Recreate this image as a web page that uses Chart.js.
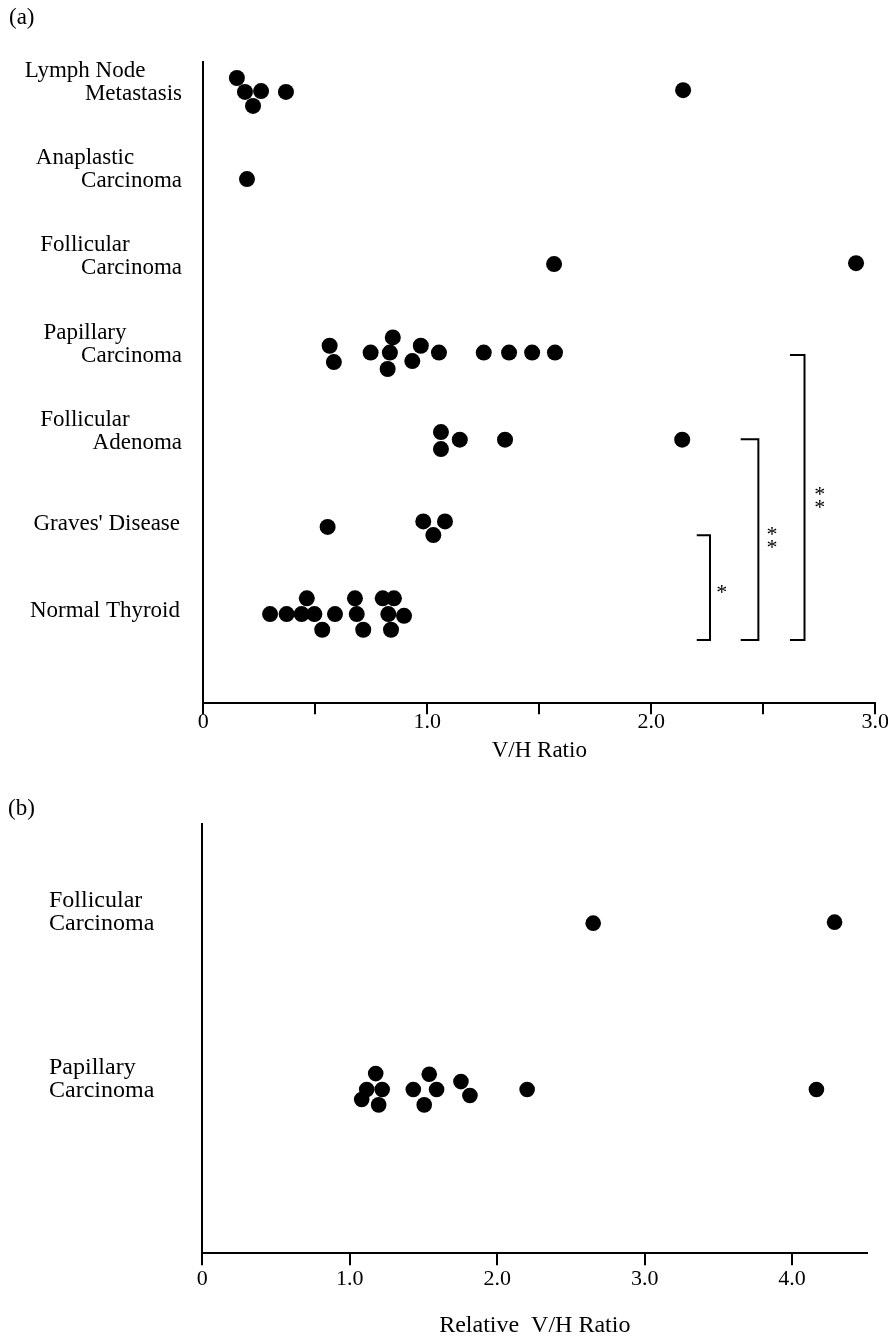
<!DOCTYPE html>
<html><head><meta charset="utf-8">
<script src="https://cdn.jsdelivr.net/npm/chart.js@4/dist/chart.umd.min.js"></script>
<style>
html,body{margin:0;padding:0;background:#fff;}
#wrap{position:relative;width:888px;height:1340px;overflow:hidden;background:#fff;}
canvas{position:absolute;left:0;}
#ca{top:0;} #cb{top:790px;}
.panel{position:absolute;font-family:"Liberation Serif","Times New Roman",serif;font-size:23px;line-height:1;color:#000;}
</style></head><body>
<div id="wrap">
<canvas id="ca" width="888" height="790"></canvas>
<canvas id="cb" width="888" height="550"></canvas>
<div class="panel" style="left:9px;top:5px;">(a)</div>
<div class="panel" style="left:8px;top:796px;">(b)</div>
</div>
<script>
// ---------- Panel (a) data ----------
const tickLabelsA = ['0', '1.0', '2.0', '3.0'];
const categoriesA = ['Normal Thyroid', "Graves' Disease", 'Follicular Adenoma', 'Papillary Carcinoma', 'Follicular Carcinoma', 'Anaplastic Carcinoma', 'Lymph Node Metastasis'];
const categoryLinesA = [['Normal Thyroid'], ["Graves' Disease"], ['Follicular', 'Adenoma'], ['Papillary', 'Carcinoma'], ['Follicular', 'Carcinoma'], ['Anaplastic', 'Carcinoma'], ['Lymph Node', 'Metastasis']];

const normalThyroid = [0.298, 0.372, 0.439, 0.462, 0.496, 0.531, 0.588, 0.677, 0.685, 0.714, 0.801, 0.851, 0.826, 0.896, 0.838];
const normalThyroidJitter = [0, 0, 0, 0.18, 0, -0.18, 0, 0.18, 0, -0.18, 0.18, 0.18, 0, -0.02, -0.18];
const gravesDisease = [0.555, 0.982, 1.079, 1.027];
const gravesDiseaseJitter = [0, 0.063, 0.063, -0.094];
const follicularAdenoma = [1.061, 1.061, 1.145, 1.347, 2.138];
const follicularAdenomaJitter = [0.088, -0.107, 0, 0, 0];
const papillaryCarcinoma = [0.564, 0.583, 0.747, 0.846, 0.833, 0.823, 0.971, 0.933, 1.052, 1.252, 1.365, 1.468, 1.570];
const papillaryCarcinomaJitter = [0.078, -0.109, 0, 0.174, 0, -0.189, 0.078, -0.098, 0, 0, 0, 0, 0];
const follicularCarcinoma = [1.566, 2.914];
const follicularCarcinomaJitter = [0.015, 0.025];
const anaplasticCarcinoma = [0.195];
const anaplasticCarcinomaJitter = [-0.01];
const lymphNodeMetastasis = [0.150, 0.186, 0.258, 0.222, 0.369, 2.142];
const lymphNodeMetastasisJitter = [0.15, -0.01, 0, -0.17, -0.01, 0.01];

// significance brackets (data units)
const bracketLeft = [2.203, 2.399, 2.619];
const bracketRight = [2.262, 2.478, 2.684];
const bracketTop = [0.903, 2.004, 2.971];
const bracketBottom = [-0.298, -0.298, -0.298];
const bracketMarks = ['*', '**', '**'];
const bracketMarkX = [2.314, 2.539, 2.752];
const bracketMarkY = [0.287, 0.878, 1.342];

// ---------- Panel (b) data ----------
const tickLabelsB = ['0', '1.0', '2.0', '3.0', '4.0'];
const categoriesB = ['Papillary Carcinoma', 'Follicular Carcinoma'];
const categoryLinesB = [['Papillary', 'Carcinoma'], ['Follicular', 'Carcinoma']];
const papillaryRelative = [1.176, 1.115, 1.220, 1.081, 1.196, 1.431, 1.539, 1.589, 1.505, 1.754, 1.815, 2.203, 4.165];
const papillaryRelativeJitter = [0.096, 0, 0, -0.06, -0.092, 0, 0.092, 0, -0.092, 0.048, -0.036, 0, 0];
const follicularRelative = [2.651, 4.288];
const follicularRelativeJitter = [0, 0.006];

// ---------- helpers ----------
const SERIF = '"Liberation Serif","Times New Roman",serif';
function rowData(values, jitter, row) { return values.map((v, i) => ({ x: v, y: row + jitter[i] })); }
function dotSet(label, values, jitter, row, r) {
  return { label, data: rowData(values, jitter, row), pointRadius: r, pointBackgroundColor: '#000', pointBorderWidth: 0, pointHoverRadius: r, showLine: false };
}

function labelPlugin(lines, cfg) {
  return {
    id: 'rowLabels',
    afterDraw(chart) {
      const ctx = chart.ctx, ys = chart.scales.y;
      ctx.save();
      ctx.fillStyle = '#000';
      ctx.font = cfg.font;
      ctx.textBaseline = 'middle';
      lines.forEach((ln, row) => {
        const py = ys.getPixelForValue(row);
        if (ln.length === 1) {
          ctx.textAlign = cfg.singleAlign; ctx.fillText(ln[0], cfg.singleX, py + cfg.singleDy);
        } else {
          ctx.textAlign = cfg.firstAlign; ctx.fillText(ln[0], cfg.firstX, py + cfg.firstDy);
          ctx.textAlign = cfg.secondAlign; ctx.fillText(ln[1], cfg.secondX, py + cfg.secondDy);
        }
      });
      ctx.restore();
    }
  };
}

const markPlugin = {
  id: 'sigMarks',
  afterDraw(chart) {
    const ctx = chart.ctx, xs = chart.scales.x, ys = chart.scales.y;
    ctx.save();
    ctx.fillStyle = '#000';
    ctx.font = '22px ' + SERIF;
    ctx.textAlign = 'center';
    ctx.textBaseline = 'alphabetic';
    bracketMarks.forEach((m, i) => {
      const px = xs.getPixelForValue(bracketMarkX[i]);
      const py = ys.getPixelForValue(bracketMarkY[i]);
      const n = m.length, gap = 13;
      for (let k = 0; k < n; k++) {
        const cy = py + (k - (n - 1) / 2) * gap;
        ctx.fillText('*', px, cy + 10);
      }
    });
    ctx.restore();
  }
};

function xScale(max, step, labels, title, cfg) {
  return {
    type: 'linear', min: 0, max: max,
    border: { display: true, color: '#000', width: 2 },
    grid: { display: true, drawOnChartArea: false, drawTicks: true, tickLength: cfg.tickLength, color: '#000', lineWidth: 2 },
    ticks: {
      stepSize: step, autoSkip: false, maxRotation: 0, includeBounds: false, color: '#000', padding: cfg.tickPad,
      font: { family: SERIF, size: 22, lineHeight: 0.5 },
      callback: (v) => Number.isInteger(v) ? labels[v] : ''
    },
    title: { display: true, text: title, color: '#000', font: { family: SERIF, size: cfg.titleSize, lineHeight: 1.2 }, padding: { top: 0, bottom: cfg.titlePad } },
    afterFit(s) { s.height = cfg.height; s.paddingLeft = 0; s.paddingRight = 0; }
  };
}
function yScale(min, max, width) {
  return {
    type: 'linear', min: min, max: max,
    ticks: { display: false },
    grid: { display: true, drawOnChartArea: false, drawTicks: false },
    border: { display: true, color: '#000', width: 2 },
    afterFit(s) { s.width = width; }
  };
}
const commonPlugins = { legend: { display: false }, tooltip: { enabled: false } };

// ---------- chart (a) ----------
const rA = 8;
const datasetsA = [
  dotSet(categoriesA[0], normalThyroid, normalThyroidJitter, 0, rA),
  dotSet(categoriesA[1], gravesDisease, gravesDiseaseJitter, 1, rA),
  dotSet(categoriesA[2], follicularAdenoma, follicularAdenomaJitter, 2, rA),
  dotSet(categoriesA[3], papillaryCarcinoma, papillaryCarcinomaJitter, 3, rA),
  dotSet(categoriesA[4], follicularCarcinoma, follicularCarcinomaJitter, 4, rA),
  dotSet(categoriesA[5], anaplasticCarcinoma, anaplasticCarcinomaJitter, 5, rA),
  dotSet(categoriesA[6], lymphNodeMetastasis, lymphNodeMetastasisJitter, 6, rA)
];
bracketMarks.forEach((m, i) => {
  datasetsA.push({
    label: 'bracket ' + m,
    data: [{ x: bracketLeft[i], y: bracketTop[i] }, { x: bracketRight[i], y: bracketTop[i] }, { x: bracketRight[i], y: bracketBottom[i] }, { x: bracketLeft[i], y: bracketBottom[i] }],
    showLine: true, pointRadius: 0, pointHoverRadius: 0, borderColor: '#000', borderWidth: 2, fill: false, tension: 0,
    borderJoinStyle: 'miter', borderCapStyle: 'butt'
  });
});

new Chart(document.getElementById('ca'), {
  type: 'scatter',
  data: { datasets: datasetsA },
  options: {
    responsive: false, animation: false, events: [],
    layout: { padding: { top: 62.3, right: 12.7, left: 0, bottom: 0 } },
    plugins: commonPlugins,
    scales: {
      x: xScale(3, 0.5, tickLabelsA, 'V/H Ratio', { tickLength: 11, tickPad: 2, titleSize: 23, titlePad: 25, height: 86.7 }),
      y: yScale(-1.024, 6.33, 203.3)
    }
  },
  plugins: [labelPlugin(categoryLinesA, {
    font: '23px ' + SERIF,
    singleAlign: 'right', singleX: 180, singleDy: -3,
    firstAlign: 'center', firstX: 85, firstDy: -20,
    secondAlign: 'right', secondX: 182, secondDy: 3
  }), markPlugin]
});

// ---------- chart (b) ----------
const rB = 7.8;
new Chart(document.getElementById('cb'), {
  type: 'scatter',
  data: { datasets: [
    dotSet(categoriesB[0], papillaryRelative, papillaryRelativeJitter, 0, rB),
    dotSet(categoriesB[1], follicularRelative, follicularRelativeJitter, 1, rB)
  ] },
  options: {
    responsive: false, animation: false, events: [],
    layout: { padding: { top: 34, right: 20.7, left: 0, bottom: 0 } },
    plugins: commonPlugins,
    scales: {
      x: xScale(4.51, 1, tickLabelsB, 'Relative  V/H Ratio', { tickLength: 12, tickPad: 8, titleSize: 24, titlePad: 0, height: 86.7 }),
      y: yScale(-0.984, 1.596, 202.3)
    }
  },
  plugins: [labelPlugin(categoryLinesB, {
    font: '24px ' + SERIF,
    singleAlign: 'left', singleX: 49, singleDy: 0,
    firstAlign: 'left', firstX: 49, firstDy: -22,
    secondAlign: 'left', secondX: 49, secondDy: 1
  })]
});
</script>
</body></html>
